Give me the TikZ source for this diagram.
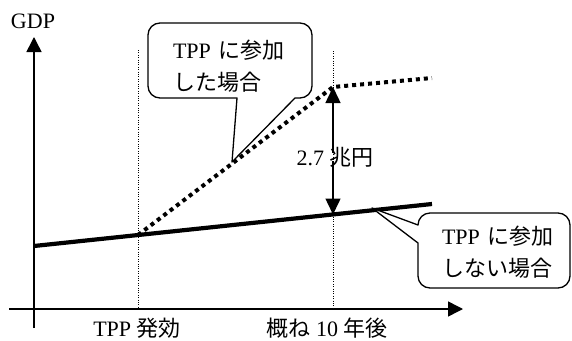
\documentclass[tikz,border=0pt]{standalone}
\usepackage{fontspec}
\setmainfont{Liberation Serif}
\newfontfamily\jp{Noto Sans CJK JP}
\usetikzlibrary{calc,arrows.meta}
\tikzset{
	axis/.style={line width=1.5pt, -{Triangle[length=15pt,width=15pt]}},
	gap/.style={line width=1.5pt, -{Triangle[length=16pt,width=15pt]}},
	guide/.style={line width=0.9pt, dash pattern=on 1pt off 1.4pt},
	bubble/.style={line width=1.3pt, fill=white, line join=round},
	txt/.style={font=\fontsize{22}{32}\selectfont, inner sep=0pt},
}

\begin{document}
\begin{tikzpicture}[x=1pt,y=1pt]
		%%%%% START %%%%%
		\useasboundingbox (0,0) rectangle (572,-340);
		
		\coordinate (yb) at (34,-328);
		\coordinate (yt) at (34,-37);
		\coordinate (xl) at (9,-309);
		\coordinate (xr) at (463,-309);
		
		\coordinate (s0) at (34,-246);
		\coordinate (s1) at (432,-204);
		\coordinate (start) at (138,-235);
		\coordinate (ten) at (333,-214.5);
		\coordinate (kink) at (333,-87);
		\coordinate (d1) at (432,-78);
		
		% guides
		\draw[guide] (138,-50) -- (start |- xl);
		\draw[guide] (333,-51) -- (ten |- xl);
		
		% axes
		\draw[axis] (yb) -- (yt);
		\draw[axis] (xl) -- (xr);
		\node[txt] (gdp) at (33,-21) {GDP};
		\node[txt] (t0) at (137,-328) {TPP {\jp 発効}};
		\node[txt] (t1) at (327,-328) {{\jp 概ね} 10 {\jp 年後}};
		
		% lines
		\draw[line width=4.2pt] (s0) -- (s1);
		\draw[line width=4pt, dash pattern=on 4pt off 4pt] (start) -- (kink) -- (d1);
		
		% gap
		\node[txt] (amt) at (335,-157) {2.7 {\jp 兆円}};
		\draw[gap] (amt.north -| kink) ++(0,-6) -- (kink);
		\draw[gap] (amt.south -| ten) ++(0,6) -- (ten);
		
		% callouts
		\draw[bubble] (237,-98) -- (232,-162) -- (295,-98) -- (300,-98)
			arc[start angle=-90, end angle=0, radius=12] -- (312,-35)
			arc[start angle=0, end angle=90, radius=12] -- (160,-23)
			arc[start angle=90, end angle=180, radius=12] -- (148,-86)
			arc[start angle=180, end angle=270, radius=12] -- cycle;
		\node[txt, align=left] (c1) at (229,-66) {TPP\hspace{8pt}{\jp に参加}\\{\jp した場合}};
		
		\draw[bubble] (418,-225) -- (372,-208) -- (418,-243) -- (418,-276)
			arc[start angle=180, end angle=270, radius=12] -- (558,-288)
			arc[start angle=270, end angle=360, radius=12] -- (570,-225)
			arc[start angle=0, end angle=90, radius=12] -- (430,-213)
			arc[start angle=90, end angle=180, radius=12] -- cycle;
		\node[txt, align=left] (c2) at (498,-252) {TPP\hspace{8pt}{\jp に参加}\\{\jp しない場合}};
		
		%%%%% END %%%%%
	\end{tikzpicture}
\end{document}
